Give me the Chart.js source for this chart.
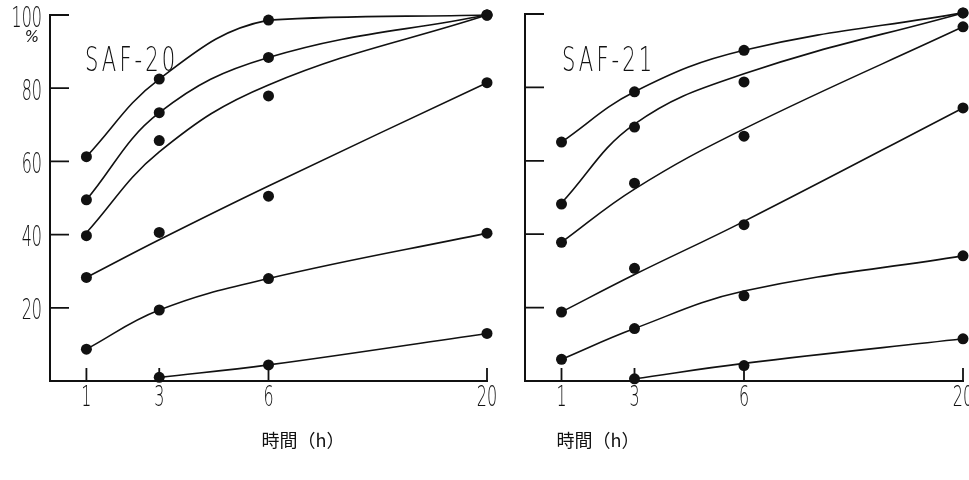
<!DOCTYPE html>
<html>
<head>
<meta charset="utf-8">
<title>SAF-20 / SAF-21</title>
<style>
 body { margin: 0; background: #fff; }
 #wrap { position: relative; width: 969px; height: 480px; overflow: hidden; }
 canvas { position: absolute; top: 0; }
 #left { left: 0; }
 #right { left: 505px; }
</style>
</head>
<body>
<div id="wrap">
 <canvas id="left" width="505" height="480"></canvas>
 <canvas id="right" width="464" height="480"></canvas>
</div>
<script src="https://cdn.jsdelivr.net/npm/chart.js@4.4.1/dist/chart.umd.min.js"></script>
<script>
// sampling times (h) and axis labels
const hours = [1, 3, 6, 20]
const hourLabels = ['1', '3', '6', '20']
const percentTicks = [20, 40, 60, 80, 100]
// 0-6 h takes the first half of the axis, 6-20 h the second half
const hourBreaks = [0, 6, 20]

// measured points (%), top curve first
const saf20Dots = [
  [61.3, 82.5, 98.6, 100],
  [49.5, 73.3, 88.4, 100],
  [39.7, 65.7, 77.9, 100],
  [28.3, 40.6, 50.5, 81.5],
  [8.7, 19.4, 28.0, 40.4],
  [null, 1.0, 4.4, 13.0]
]
// hand-drawn curves through the points
const saf20Curves = [
  [61.3, 82.5, 98.6, 100],
  [49.5, 73.3, 88.4, 100],
  [40.5, 62.6, 80.9, 100],
  [28.3, 38.6, 53.3, 81.5],
  [8.7, 19.4, 28.0, 40.4],
  [null, 1.0, 4.4, 13.0]
]

const saf21Dots = [
  [65.1, 78.8, 90.1, 100.3],
  [48.2, 69.2, 81.5, 100.3],
  [37.8, 53.9, 66.7, 96.5],
  [18.8, 30.7, 42.6, 74.4],
  [5.9, 14.3, 23.2, 34.1],
  [null, 0.6, 4.2, 11.5]
]
const saf21Curves = [
  [65.1, 78.8, 90.1, 100.3],
  [48.5, 70.0, 83.7, 100.3],
  [37.8, 52.3, 68.7, 96.5],
  [18.8, 29.0, 43.5, 74.4],
  [5.9, 14.3, 24.5, 34.1],
  [null, 0.6, 4.8, 11.5]
]

// linear scale that gives each span between breaks an equal share of the axis
class BrokenHourScale extends Chart.LinearScale {
  static id = 'brokenHour'
  decimalFor(value) {
    const b = this.options.breaks, n = b.length - 1
    let i = 0
    while (i < n - 1 && value > b[i + 1]) i++
    return (i + (value - b[i]) / (b[i + 1] - b[i])) / n
  }
  getPixelForValue(value) {
    return this.getPixelForDecimal(this.decimalFor(value))
  }
  getValueForPixel(pixel) {
    const b = this.options.breaks, n = b.length - 1
    const d = this.getDecimalForPixel(pixel) * n
    const i = Math.min(Math.max(Math.floor(d), 0), n - 1)
    return b[i] + (d - i) * (b[i + 1] - b[i])
  }
}
Chart.register(BrokenHourScale)

function pairs(arr) {
  return hours.map((h, i) => ({x: h, y: arr[i]})).filter(p => p.y !== null)
}

function narrowText(ctx, str, x, y, size, squeeze, align, spacing) {
  ctx.save()
  ctx.translate(x, y)
  ctx.scale(squeeze, 1)
  ctx.font = '200 ' + size + 'px "DejaVu Sans"'
  ctx.letterSpacing = (spacing || 0) + 'px'
  ctx.textAlign = align
  ctx.textBaseline = 'middle'
  ctx.fillText(str, 0, 0)
  ctx.restore()
}

// inward tick marks, labels, panel name and time axis title
const ink = {
  id: 'ink',
  afterDraw(chart, args, o) {
    const ctx = chart.ctx, a = chart.chartArea
    const x = chart.scales.x, y = chart.scales.y
    ctx.save()
    ctx.strokeStyle = '#111'
    ctx.fillStyle = '#111'
    ctx.lineWidth = 1.8
    ctx.beginPath()
    percentTicks.forEach(v => {
      const py = y.getPixelForValue(v)
      ctx.moveTo(a.left, py)
      ctx.lineTo(a.left + 19, py)
    })
    hours.forEach(h => {
      const px = x.getPixelForValue(h)
      ctx.moveTo(px, a.bottom)
      ctx.lineTo(px, a.bottom - 13)
    })
    ctx.stroke()

    if (o.yLabels) {
      percentTicks.forEach(v => {
        narrowText(ctx, String(v), a.left - 8, y.getPixelForValue(v) + 4, 29, 0.55, 'right')
      })
      ctx.font = 'italic 15px "DejaVu Sans"'
      ctx.textAlign = 'center'
      ctx.textBaseline = 'middle'
      ctx.fillText('%', a.left - 18, 38)
    }
    hours.forEach((h, i) => {
      narrowText(ctx, hourLabels[i], x.getPixelForValue(h), 398, 29, 0.55, 'center')
    })
    narrowText(ctx, o.name, o.nameX, 62, 34, 0.62, 'left', 5)

    ctx.font = '18px "Noto Sans CJK JP"'
    ctx.textAlign = 'center'
    ctx.textBaseline = 'middle'
    ctx.fillText('時間（h）', o.titleX, 440)
    ctx.restore()
  }
}

function makePanel(id, dots, curves, opts) {
  const datasets = []
  curves.forEach(c => datasets.push({
    data: pairs(c), borderColor: '#111', borderWidth: 1.6, pointRadius: 0,
    tension: 0.4, fill: false
  }))
  dots.forEach(d => datasets.push({
    data: pairs(d), showLine: false, pointRadius: 5.5,
    pointBackgroundColor: '#111', pointBorderWidth: 0
  }))
  const axis = {
    grid: {display: false, drawTicks: false},
    ticks: {display: false},
    border: {display: true, color: '#111', width: 2}
  }
  new Chart(document.getElementById(id), {
    type: 'line',
    data: {datasets: datasets},
    options: {
      responsive: false,
      animation: false,
      events: [],
      clip: false,
      layout: {padding: opts.pad},
      plugins: {
        legend: {display: false},
        tooltip: {enabled: false},
        ink: opts
      },
      scales: {
        x: Object.assign({type: 'brokenHour', min: 0, max: 20, breaks: hourBreaks,
          afterBuildTicks: s => { s.ticks = hours.map(v => ({value: v})) },
          afterFit: s => { s.height = 0 }}, axis),
        y: Object.assign({type: 'linear', min: 0, max: 100,
          afterFit: s => { s.width = 0 }}, axis)
      }
    },
    plugins: [ink]
  })
}

makePanel('left', saf20Dots, saf20Curves, {
  name: 'SAF-20', nameX: 85, titleX: 303, yLabels: true,
  pad: {left: 50, top: 15, right: 18, bottom: 99}
})
makePanel('right', saf21Dots, saf21Curves, {
  name: 'SAF-21', nameX: 57, titleX: 93, yLabels: false,
  pad: {left: 20, top: 14, right: 6, bottom: 99}
})
</script>
</body>
</html>
